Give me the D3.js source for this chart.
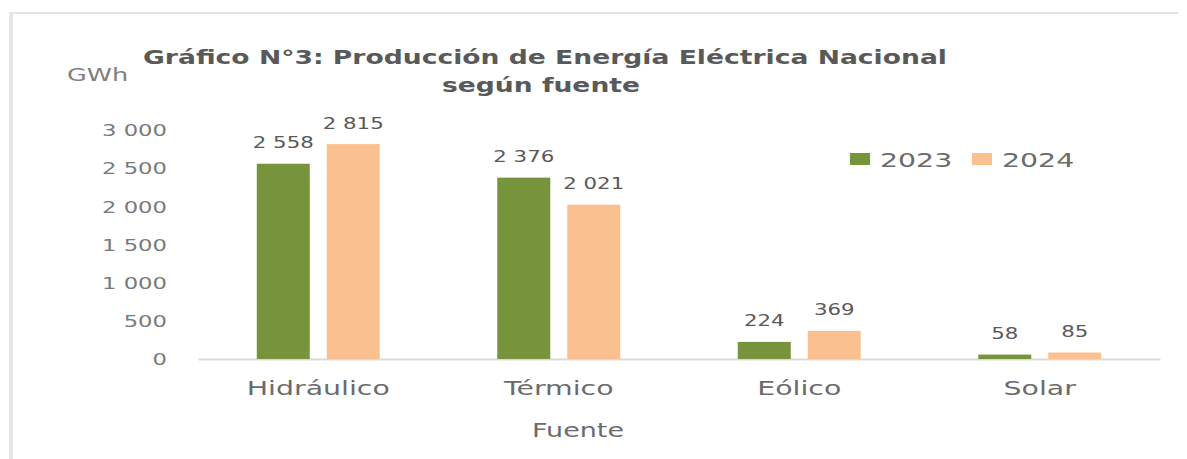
<!DOCTYPE html>
<html>
<head>
<meta charset="utf-8">
<script src="https://cdn.jsdelivr.net/npm/d3@7/dist/d3.min.js"></script>
<style>
  html, body { margin: 0; padding: 0; background: #fff; overflow: hidden; }
  svg { display: block; }
  text { font-family: "DejaVu Sans", Verdana, sans-serif; }
</style>
</head>
<body>
<div id="chart"></div>
<script>
// data
var categories = ["Hidráulico", "Térmico", "Eólico", "Solar"];
var years = ["2023", "2024"];
var values2023 = [2558, 2376, 224, 58];
var values2024 = [2815, 2021, 369, 85];
var yTicks = [0, 500, 1000, 1500, 2000, 2500, 3000];

var colors = {"2023": "#77933c", "2024": "#fac090"};

var W = 1187, H = 459;
// the picture is stretched sideways, so text is widened too
var SX = 1.42;

var svg = d3.select("#chart").append("svg")
    .attr("width", W)
    .attr("height", H);

// light frame: left and top edges only
svg.append("line")
    .attr("x1", 11).attr("x2", 11)
    .attr("y1", 12).attr("y2", H)
    .attr("stroke", "#e6e6e6")
    .attr("stroke-width", 4);
svg.append("line")
    .attr("x1", 9).attr("x2", 1178)
    .attr("y1", 13).attr("y2", 13)
    .attr("stroke", "#e3e3e3")
    .attr("stroke-width", 2);

var x0 = d3.scaleBand()
    .domain(categories)
    .range([198, 1160]);

var x1 = d3.scaleBand()
    .domain(years)
    .range([0, x0.bandwidth()])
    .paddingInner(0.243)
    .paddingOuter(0.84);

var y = d3.scaleLinear()
    .domain([0, 3000])
    .range([359, 130]);

var fmt = d3.formatLocale({decimal: ",", thousands: "\u00a0", grouping: [3], currency: ["", ""]}).format(",d");

// helper: text widened by SX around its anchor point
function wideText(g, xPos, yPos, str, size, anchor, color, weight) {
    return g.append("text")
        .attr("transform", "translate(" + xPos + "," + yPos + ") scale(" + SX + ",1)")
        .attr("text-anchor", anchor)
        .style("font-size", size + "px")
        .style("font-weight", weight || "normal")
        .attr("fill", color)
        .text(str);
}

// y axis
var yAxis = d3.axisLeft(y)
    .tickValues(yTicks)
    .tickSize(0)
    .tickFormat(fmt);

var gy = svg.append("g")
    .attr("transform", "translate(167,0)")
    .call(yAxis);
gy.select(".domain").remove();
gy.selectAll("text")
    .attr("x", 0)
    .attr("dy", "0.36em")
    .attr("transform", "scale(" + SX + ",1)")
    .attr("fill", "#7a7a7a")
    .style("font-size", "16px")
    .style("font-family", "DejaVu Sans, sans-serif");

// x axis
var xAxis = d3.axisBottom(x0).tickSize(0);
var gx = svg.append("g")
    .attr("transform", "translate(0," + y(0) + ")")
    .call(xAxis);
gx.select(".domain")
    .attr("stroke", "#d9d9d9")
    .attr("stroke-width", 2);
gx.selectAll(".tick text")
    .attr("y", 0)
    .attr("dy", 0)
    .attr("transform", "translate(0,36) scale(" + SX + ",1)")
    .attr("fill", "#6b6b6b")
    .style("font-size", "20px")
    .style("font-family", "DejaVu Sans, sans-serif");

// bars
var rows = categories.map(function(c, i) {
    return {cat: c, vals: [{year: "2023", v: values2023[i]}, {year: "2024", v: values2024[i]}]};
});

var groups = svg.selectAll("g.group")
    .data(rows)
    .enter()
    .append("g")
    .attr("class", "group")
    .attr("transform", function(d) { return "translate(" + x0(d.cat) + ",0)"; });

groups.selectAll("rect")
    .data(function(d) { return d.vals; })
    .enter()
    .append("rect")
    .attr("x", function(d) { return x1(d.year); })
    .attr("y", function(d) { return y(d.v); })
    .attr("width", x1.bandwidth())
    .attr("height", function(d) { return y(0) - y(d.v); })
    .attr("fill", function(d) { return colors[d.year]; });

groups.selectAll("text.val")
    .data(function(d) { return d.vals; })
    .enter()
    .append("text")
    .attr("class", "val")
    .attr("transform", function(d) {
        return "translate(" + (x1(d.year) + x1.bandwidth() / 2) + "," + (y(d.v) - 15.5) + ") scale(" + SX + ",1)";
    })
    .attr("text-anchor", "middle")
    .style("font-size", "15px")
    .attr("fill", "#595959")
    .text(function(d) { return fmt(d.v); });

// titles
svg.append("text")
    .attr("x", 545)
    .attr("y", 64)
    .attr("text-anchor", "middle")
    .attr("textLength", 804)
    .attr("lengthAdjust", "spacingAndGlyphs")
    .style("font-size", "20px")
    .style("font-weight", "bold")
    .attr("fill", "#595959")
    .text("Gráfico N°3: Producción de Energía Eléctrica Nacional");

svg.append("text")
    .attr("x", 541)
    .attr("y", 92)
    .attr("text-anchor", "middle")
    .attr("textLength", 198)
    .attr("lengthAdjust", "spacingAndGlyphs")
    .style("font-size", "20px")
    .style("font-weight", "bold")
    .attr("fill", "#595959")
    .text("según fuente");

wideText(svg, 67, 81, "GWh", 18, "start", "#7f7f7f");
wideText(svg, 578, 437, "Fuente", 19, "middle", "#6b6b6b");

// legend
var legend = svg.selectAll("g.legend")
    .data(years)
    .enter()
    .append("g")
    .attr("class", "legend")
    .attr("transform", function(d, i) { return "translate(" + (850 + i * 122) + ",153)"; });

legend.append("rect")
    .attr("width", 20)
    .attr("height", 12)
    .attr("fill", function(d) { return colors[d]; });

legend.each(function(d) {
    wideText(d3.select(this), 30, 14, d, 20, "start", "#6b6b6b");
});
</script>
</body>
</html>
